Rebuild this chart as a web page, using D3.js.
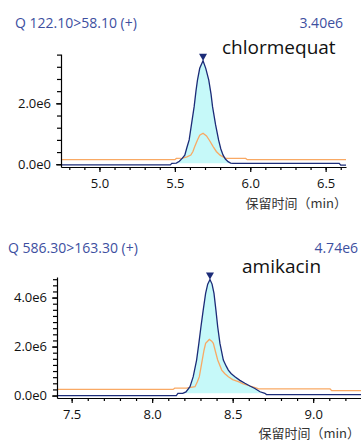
<!DOCTYPE html>
<html><head><meta charset="utf-8">
<script src="https://cdn.jsdelivr.net/npm/d3@7"></script>
<style>body{margin:0;background:#fff} svg{display:block}</style>
</head><body>
<svg id="chart" width="361" height="441"></svg>
<script>
// ---------- data ----------
const transitions = ["Q 122.10>58.10 (+)", "Q 586.30>163.30 (+)"];
const compounds = ["chlormequat", "amikacin"];
const peakLabels = ["3.40e6", "4.74e6"];
const peakTimes = [5.687, 8.359];
const peakValues = [3.40e6, 4.74e6];

const xTicks1 = [5.0, 5.5, 6.0, 6.5];
const xTickLabels1 = ["5.0", "5.5", "6.0", "6.5"];
const yTicks1 = [0, 2.0e6];
const yTickLabels1 = ["0.0e0", "2.0e6"];
const xTicks2 = [7.5, 8.0, 8.5, 9.0];
const xTickLabels2 = ["7.5", "8.0", "8.5", "9.0"];
const yTicks2 = [0, 2.0e6, 4.0e6];
const yTickLabels2 = ["0.0e0", "2.0e6", "4.0e6"];
const xAxisTitle = "保留时间（min）";

// chlormequat quantifier (blue)
const chlorQuantTime = [4.745, 5.47, 5.48, 5.51, 5.53, 5.55, 5.566, 5.58, 5.595, 5.61, 5.628, 5.64, 5.65, 5.665, 5.687, 5.705, 5.725, 5.74, 5.75, 5.77, 5.79, 5.805, 5.82, 5.835, 5.853, 5.87, 5.885, 6.59, 6.60, 6.635];
const chlorQuantValue = [-0.02e6, -0.02e6, 0.03e6, 0.04e6, 0.10e6, 0.20e6, 0.30e6, 0.55e6, 0.80e6, 1.30e6, 1.89e6, 2.40e6, 2.76e6, 3.15e6, 3.40e6, 3.15e6, 2.76e6, 2.30e6, 1.89e6, 1.30e6, 0.80e6, 0.50e6, 0.30e6, 0.17e6, 0.085e6, 0.04e6, 0.03e6, 0.03e6, -0.03e6, -0.03e6];
// chlormequat qualifier (orange)
const chlorQualTime = [4.745, 5.50, 5.51, 5.55, 5.58, 5.606, 5.62, 5.632, 5.65, 5.665, 5.687, 5.71, 5.73, 5.754, 5.775, 5.80, 5.82, 5.842, 5.97, 5.98, 6.635];
const chlorQualValue = [0.15e6, 0.15e6, 0.19e6, 0.20e6, 0.24e6, 0.30e6, 0.42e6, 0.58e6, 0.80e6, 0.95e6, 1.02e6, 0.93e6, 0.78e6, 0.58e6, 0.42e6, 0.30e6, 0.24e6, 0.19e6, 0.19e6, 0.15e6, 0.15e6];
const chlorFillRange = [5.48, 5.885];
const chlorFillBase = 0.03e6;

// amikacin quantifier (blue)
const amikQuantTime = [7.409, 8.15, 8.16, 8.19, 8.21, 8.235, 8.255, 8.276, 8.29, 8.303, 8.317, 8.332, 8.345, 8.359, 8.372, 8.384, 8.396, 8.407, 8.421, 8.442, 8.46, 8.473, 8.49, 8.514, 8.545, 8.576, 8.61, 8.638, 8.67, 8.70, 8.71, 9.297];
const amikQuantValue = [0.0, 0.0, 0.09e6, 0.09e6, 0.15e6, 0.36e6, 0.77e6, 1.45e6, 2.13e6, 2.81e6, 3.49e6, 4.17e6, 4.55e6, 4.74e6, 4.55e6, 4.17e6, 3.49e6, 2.81e6, 2.13e6, 1.45e6, 1.20e6, 1.04e6, 0.90e6, 0.77e6, 0.62e6, 0.50e6, 0.38e6, 0.29e6, 0.155e6, 0.09e6, 0.04e6, 0.04e6];
// amikacin qualifier (orange)
const amikQualTime = [7.409, 8.13, 8.14, 8.214, 8.24, 8.266, 8.28, 8.293, 8.311, 8.322, 8.332, 8.355, 8.37, 8.38, 8.393, 8.407, 8.432, 8.45, 8.473, 8.50, 8.535, 8.566, 8.597, 8.62, 8.649, 8.66, 9.105, 9.115, 9.297];
const amikQualValue = [0.25e6, 0.25e6, 0.30e6, 0.30e6, 0.33e6, 0.36e6, 0.55e6, 0.77e6, 1.45e6, 1.85e6, 2.13e6, 2.29e6, 2.22e6, 2.13e6, 1.80e6, 1.45e6, 1.04e6, 0.90e6, 0.77e6, 0.65e6, 0.57e6, 0.48e6, 0.41e6, 0.36e6, 0.30e6, 0.27e6, 0.27e6, 0.20e6, 0.20e6];
const amikFillRange = [8.19, 8.71];
const amikFillBase = 0.09e6;

// ---------- layout ----------
const panels = [
  { title: transitions[0], name: compounds[0], peakLabel: peakLabels[0], peakT: peakTimes[0], peakV: peakValues[0],
    qT: chlorQuantTime, qV: chlorQuantValue, lT: chlorQualTime, lV: chlorQualValue,
    fill: chlorFillRange, fillBase: chlorFillBase,
    xTicks: xTicks1, xLabels: xTickLabels1, yTicks: yTicks1, yLabels: yTickLabels1, minorY: 0.4e6,
    xDom: [4.745, 6.635], xRange: [61, 346], yDom: [-0.09e6, 3.62e6], yRange: [167, 54],
    titleX: 15, titleY: 28, peakLabelX: 343, nameX: 222, nameY: 54, axisTitleX: 347, axisTitleY: 208 },
  { title: transitions[1], name: compounds[1], peakLabel: peakLabels[1], peakT: peakTimes[1], peakV: peakValues[1],
    qT: amikQuantTime, qV: amikQuantValue, lT: amikQualTime, lV: amikQualValue,
    fill: amikFillRange, fillBase: amikFillBase,
    xTicks: xTicks2, xLabels: xTickLabels2, yTicks: yTicks2, yLabels: yTickLabels2, minorY: 0.25e6,
    xDom: [7.409, 9.297], xRange: [57, 361], yDom: [-0.10e6, 4.84e6], yRange: [398, 277],
    titleX: 8, titleY: 253, peakLabelX: 358, nameX: 242, nameY: 273, axisTitleX: 360, axisTitleY: 438 }
];

const svg = d3.select("#chart");
const BLUE = "#1c2c78", ORANGE = "#f9a964", FILL = "#c6f9f9", TITLE = "#3d4f9f";
const FONT = "'Open Sans', 'Noto Sans', sans-serif";

panels.forEach(p => {
  const g = svg.append("g");
  const x = d3.scaleLinear().domain(p.xDom).range(p.xRange);
  const y = d3.scaleLinear().domain(p.yDom).range(p.yRange);
  const quant = p.qT.map((t, i) => [t, p.qV[i]]);
  const qual = p.lT.map((t, i) => [t, p.lV[i]]);

  // fill under quantifier peak
  const fillPts = quant.filter(d => d[0] >= p.fill[0] && d[0] <= p.fill[1]);
  g.append("path").datum(fillPts)
    .attr("fill", FILL)
    .attr("d", d3.area().x(d => x(d[0])).y0(y(p.fillBase)).y1(d => y(Math.max(d[1], p.fillBase))));

  const line = d3.line().x(d => x(d[0])).y(d => y(d[1]));
  g.append("path").datum(qual).attr("fill", "none").attr("stroke", ORANGE).attr("stroke-width", 1.3).attr("d", line);
  g.append("path").datum(quant).attr("fill", "none").attr("stroke", BLUE).attr("stroke-width", 1.3).attr("d", line);

  // peak marker
  const px = x(p.peakT), py = y(p.peakV);
  g.append("path").attr("fill", BLUE)
    .attr("d", `M${px - 4},${py - 7}L${px + 4},${py - 7}L${px},${py}Z`);

  // axes
  const xMinor = d3.range(Math.ceil(p.xDom[0] * 10), Math.floor(p.xDom[1] * 10) + 1).map(v => v / 10);
  const yMinor = d3.range(0, p.yDom[1], p.minorY);
  const xAxisY = p.yRange[0], yAxisX = p.xRange[0];

  const gxm = g.append("g").attr("transform", `translate(0,${xAxisY})`)
    .call(d3.axisBottom(x).tickValues(xMinor).tickSize(3).tickSizeOuter(0).tickFormat(""));
  const gx = g.append("g").attr("transform", `translate(0,${xAxisY})`)
    .call(d3.axisBottom(x).tickValues(p.xTicks).tickSize(5).tickSizeOuter(0).tickPadding(7)
      .tickFormat((d, i) => p.xLabels[i]));
  gx.select(".domain").remove();
  const gym = g.append("g").attr("transform", `translate(${yAxisX},0)`)
    .call(d3.axisLeft(y).tickValues(yMinor).tickSize(4).tickSizeOuter(0).tickFormat(""));
  const gy = g.append("g").attr("transform", `translate(${yAxisX},0)`)
    .call(d3.axisLeft(y).tickValues(p.yTicks).tickSize(5).tickSizeOuter(0).tickPadding(5)
      .tickFormat((d, i) => p.yLabels[i]));
  gy.select(".domain").remove();
  [gxm, gx, gym, gy].forEach(a => {
    a.selectAll("path,line").attr("stroke", "#000").attr("stroke-width", 1.2);
    a.selectAll("text").attr("font-family", FONT).attr("font-size", 13).attr("fill", "#111");
  });

  // texts
  g.append("text").attr("x", p.titleX).attr("y", p.titleY).text(p.title)
    .attr("font-family", FONT).attr("font-size", 14).attr("fill", TITLE);
  g.append("text").attr("x", p.peakLabelX).attr("y", p.titleY).attr("text-anchor", "end").text(p.peakLabel)
    .attr("font-family", FONT).attr("font-size", 14).attr("fill", TITLE);
  g.append("text").attr("x", p.nameX).attr("y", p.nameY).text(p.name)
    .attr("font-family", FONT).attr("font-size", 19).attr("fill", "#111");
  g.append("text").attr("x", p.axisTitleX).attr("y", p.axisTitleY).attr("text-anchor", "end").text(xAxisTitle)
    .attr("font-family", "'Noto Sans CJK SC', sans-serif").attr("font-size", 13).attr("fill", "#333");
});
</script>
</body></html>
